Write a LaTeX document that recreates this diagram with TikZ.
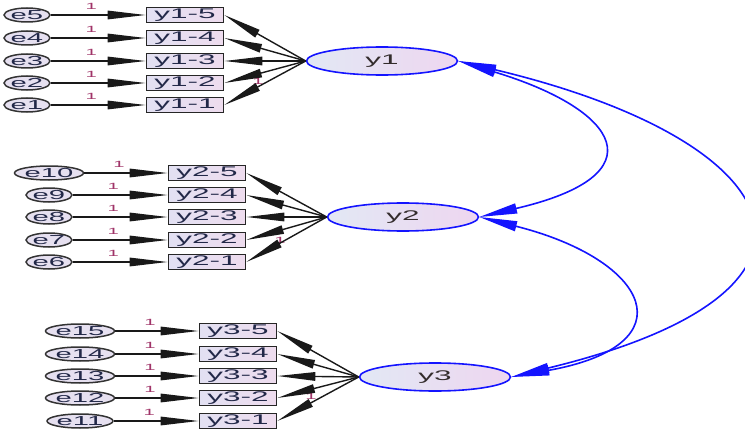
\documentclass[tikz,border=0pt]{standalone}
\usepackage{fontspec}
\usepackage{graphicx}
\setmainfont{Liberation Sans}
\usetikzlibrary{arrows.meta,shapes.geometric}

% horizontally widened lettering used throughout the path diagram
\newcommand{\widetxt}[1]{\scalebox{2.25}[1]{#1}}

\definecolor{boxL}{HTML}{E2E0F2}
\definecolor{boxR}{HTML}{EEDCEE}
\definecolor{latL}{HTML}{E2E8F4}
\definecolor{latR}{HTML}{EED6F0}
\definecolor{errF}{HTML}{E6E0F0}
\definecolor{ink}{HTML}{222848}
\definecolor{latink}{HTML}{332C2C}
\definecolor{onecol}{HTML}{A03468}
\definecolor{covblue}{HTML}{1414FF}

\begin{document}
\begin{tikzpicture}[x=1pt,y=-1pt,
  obs/.style={draw=black!85, line width=1.6pt, left color=boxL, right color=boxR,
    minimum width=77pt, minimum height=15pt, inner sep=0pt,
    font=\fontsize{14}{14}\selectfont, text=ink},
  lat/.style={ellipse, draw=covblue, line width=1.6pt, left color=latL, right color=latR,
    minimum width=151pt, minimum height=28pt, inner sep=0pt,
    font=\fontsize{14}{14}\selectfont, text=latink},
  err/.style={ellipse, draw=black!80, line width=1.5pt, fill=errF,
    minimum width=41pt, minimum height=14pt, inner sep=0pt,
    font=\fontsize{13}{13}\selectfont, text=ink},
  load/.style={draw=black!90, line width=1.4pt, -{Triangle[length=38pt,width=8.5pt]}},
  cov/.style={draw=covblue, line width=1.6pt,
    {Triangle[length=38pt,width=10pt]}-{Triangle[length=38pt,width=10pt]}},
  one/.style={font=\fontsize{9}{9}\selectfont, text=onecol, inner sep=0pt}
]
\useasboundingbox (0,0) rectangle (745,436);

% latent factors
\node[lat] (y1) at (382,61)  {\widetxt{y1}};
\node[lat] (y2) at (403,217) {\widetxt{y2}};
\node[lat] (y3) at (435,377) {\widetxt{y3}};

% factor y1: indicators and error terms
\foreach \k/\yy/\e in {5/15/5,4/38/4,3/61/3,2/83/2,1/105/1}{
  \node[obs] (a\k) at (185,\yy) {\widetxt{y1-\k}};
  \node[err] (e\e) at (27,\yy) {\widetxt{e\e}};
  \draw[load] (e\e) -- (a\k) node[one, midway, above=5pt, xshift=-7pt] {\widetxt{1}};
}
% factor y2
\foreach \k/\yy/\e in {5/173/10,4/195/9,3/217/8,2/240/7,1/262/6}{
  \node[obs] (b\k) at (207,\yy) {\widetxt{y2-\k}};
  \node[err] (e\e) at (49,\yy) {\widetxt{e\e}};
  \draw[load] (e\e) -- (b\k) node[one, midway, above=5pt, xshift=-7pt] {\widetxt{1}};
}
% factor y3
\foreach \k/\yy/\e in {5/331/15,4/354/14,3/376/13,2/398/12,1/421/11}{
  \node[obs] (c\k) at (238,\yy) {\widetxt{y3-\k}};
  \node[err] (e\e) at (80,\yy) {\widetxt{e\e}};
  \draw[load] (e\e) -- (c\k) node[one, midway, above=5pt, xshift=-7pt] {\widetxt{1}};
}

% fixed loading labels (mostly under the arrow heads)
\node[one] (f1) at (258,81)  {\widetxt{1}};
\node[one] (f2) at (280,240) {\widetxt{1}};
\node[one] (f3) at (311,396) {\widetxt{1}};

% factor loadings
\foreach \k in {1,...,5}{
  \draw[load] (y1.west) -- (a\k.east);
  \draw[load] (y2.west) -- (b\k.east);
  \draw[load] (y3.west) -- (c\k.east);
}

% factor covariances
\draw[cov] (y1.east) .. controls (620,110) and (660,175) .. (y2.east);
\draw[cov] (y2.east) .. controls (650,260) and (690,345) .. (y3.east);
\draw[cov] (y1.east) .. controls (790,140) and (870,290) .. (y3.east);
\end{tikzpicture}
\end{document}
